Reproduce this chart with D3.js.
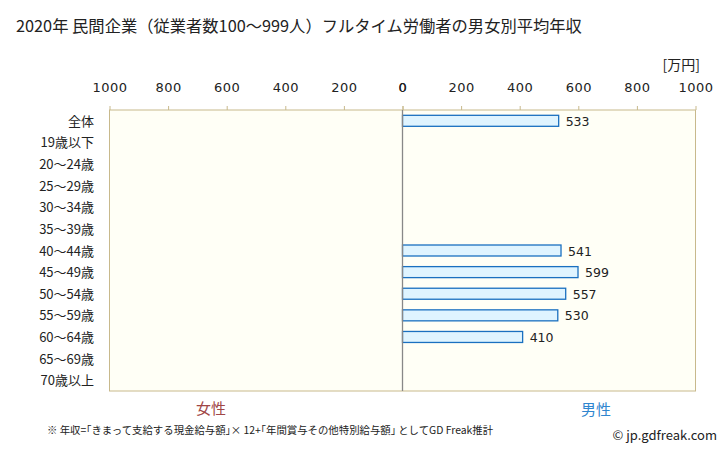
<!DOCTYPE html>
<html>
<head>
<meta charset="utf-8">
<script src="https://cdn.jsdelivr.net/npm/d3@7"></script>
<style>
body { margin: 0; background: #fff; }
text { font-family: "Noto Sans CJK JP", "DejaVu Sans", sans-serif; }
</style>
</head>
<body>
<div id="chart"></div>
<script>
var titleText = "2020年 民間企業（従業者数100～999人）フルタイム労働者の男女別平均年収";
var categories = ["全体", "19歳以下", "20～24歳", "25～29歳", "30～34歳", "35～39歳", "40～44歳", "45～49歳", "50～54歳", "55～59歳", "60～64歳", "65～69歳", "70歳以上"];
var maleValues = [533, null, null, null, null, null, 541, 599, 557, 530, 410, null, null];
var femaleValues = [null, null, null, null, null, null, null, null, null, null, null, null, null];
var tickValues = [0, 200, 400, 600, 800, 1000];

var chartW = 728, chartH = 451;
var plotLeft = 109.5, plotRight = 695.5, plotCenter = 402.5, plotTop = 110, plotBottom = 391;

var svg = d3.select("#chart").append("svg")
	.attr("width", chartW)
	.attr("height", chartH);

//title
svg.append("text")
	.attr("x", 16).attr("y", 32)
	.attr("font-size", "16.3px")
	.attr("fill", "#222")
	.text(titleText);

//scales
var xMale = d3.scaleLinear().domain([0, 1000]).range([plotCenter, plotRight]);
var xFemale = d3.scaleLinear().domain([0, 1000]).range([plotCenter, plotLeft]);
var y = d3.scaleBand().domain(categories).range([plotTop, plotBottom]);

//plot background
svg.append("rect")
	.attr("x", plotLeft).attr("y", plotTop)
	.attr("width", plotRight - plotLeft).attr("height", plotBottom - plotTop)
	.attr("fill", "#fffff6")
	.attr("stroke", "#c8b98c");

//top axes
function drawAxis(scale) {
	var g = svg.append("g")
		.attr("transform", "translate(0," + plotTop + ")")
		.call(d3.axisTop(scale).tickValues(tickValues).tickFormat(d3.format("d")).tickSize(4).tickPadding(14));
	g.select(".domain").remove();
	g.selectAll(".tick line").attr("stroke", "#c8b98c");
	g.selectAll(".tick text")
		.attr("font-size", "13px")
		.attr("fill", "#222")
		.style("font-family", "'DejaVu Sans', sans-serif")
		.style("letter-spacing", "0.5px");
}
drawAxis(xFemale);
drawAxis(xMale);

//unit
svg.append("text")
	.attr("x", 700).attr("y", 70)
	.attr("text-anchor", "end")
	.attr("font-size", "14px")
	.attr("fill", "#222")
	.text("[万円]");

//category labels
svg.selectAll("text.cat")
	.data(categories)
	.enter()
	.append("text")
	.attr("class", "cat")
	.attr("x", 94)
	.attr("y", function (d) { return y(d) + y.bandwidth() / 2 + 5; })
	.attr("text-anchor", "end")
	.attr("font-size", "13px")
	.attr("fill", "#222")
	.text(function (d) { return d; });

//male bars
var rows = categories.map(function (c, i) { return { cat: c, male: maleValues[i], female: femaleValues[i] }; });
var barH = 11;

svg.selectAll("rect.male")
	.data(rows.filter(function (d) { return d.male != null; }))
	.enter()
	.append("rect")
	.attr("class", "male")
	.attr("x", xMale(0))
	.attr("y", function (d) { return y(d.cat) + (y.bandwidth() - barH) / 2; })
	.attr("width", function (d) { return xMale(d.male) - xMale(0); })
	.attr("height", barH)
	.attr("fill", "#dff4ff")
	.attr("stroke", "#1a70c0")
	.attr("stroke-width", 1.3);

svg.selectAll("text.maleval")
	.data(rows.filter(function (d) { return d.male != null; }))
	.enter()
	.append("text")
	.attr("class", "maleval")
	.attr("x", function (d) { return xMale(d.male) + 7; })
	.attr("y", function (d) { return y(d.cat) + y.bandwidth() / 2 + 5; })
	.attr("font-size", "12.5px")
	.attr("fill", "#222")
	.style("font-family", "'DejaVu Sans', sans-serif")
	.text(function (d) { return d.male; });

//center line
svg.append("line")
	.attr("x1", plotCenter).attr("x2", plotCenter)
	.attr("y1", plotTop).attr("y2", plotBottom)
	.attr("stroke", "#888")
	.attr("stroke-width", 1.3);

//gender labels
svg.append("text")
	.attr("x", 211).attr("y", 414)
	.attr("text-anchor", "middle")
	.attr("font-size", "15px")
	.attr("fill", "#a04646")
	.text("女性");
svg.append("text")
	.attr("x", 596).attr("y", 415)
	.attr("text-anchor", "middle")
	.attr("font-size", "15px")
	.attr("fill", "#2f86cf")
	.text("男性");

//footnote
svg.append("text")
	.attr("x", 47).attr("y", 434)
	.attr("font-size", "10.4px")
	.attr("fill", "#222")
	.text("※ 年収=｢きまって支給する現金給与額｣× 12+｢年間賞与その他特別給与額｣ としてGD Freak推計");

svg.append("text")
	.attr("x", 717).attr("y", 440)
	.attr("text-anchor", "end")
	.attr("font-size", "13px")
	.attr("fill", "#222")
	.text("© jp.gdfreak.com");
</script>
</body>
</html>
